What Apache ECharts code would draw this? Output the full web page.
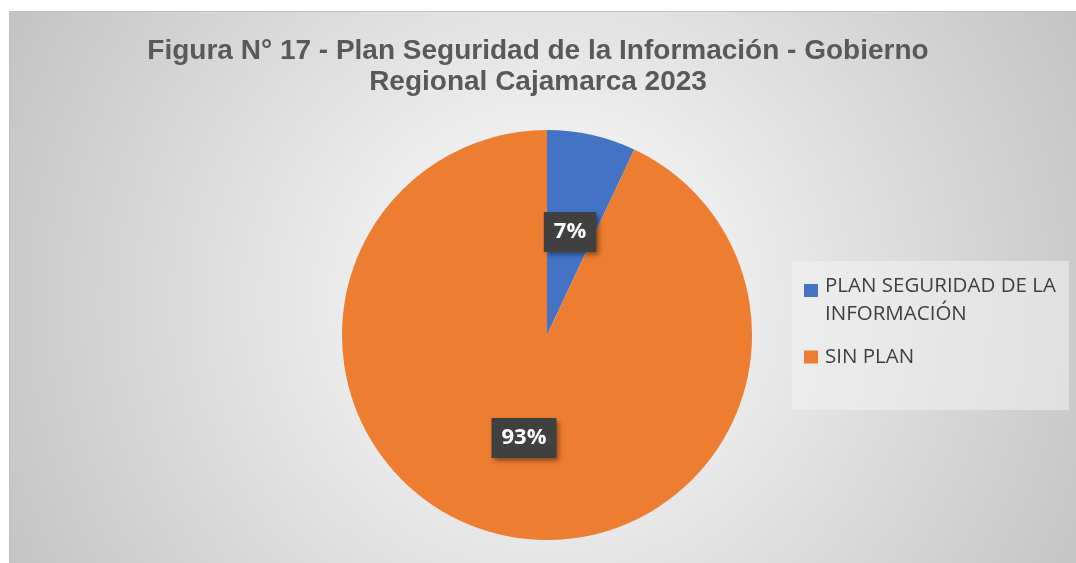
<!DOCTYPE html>
<html>
<head>
<meta charset="utf-8">
<script src="https://cdn.jsdelivr.net/npm/echarts@6/dist/echarts.min.js"></script>
<style>
    html, body {margin: 0; padding: 0; background: #fff;}
    #chart {width: 1076px; height: 563px;}
</style>
</head>
<body>
<div id="chart"></div>
<script>
// Figura 17 - pie plan seguridad

var categories = ['PLAN SEGURIDAD DE LA INFORMACIÓN', 'SIN PLAN'];
var legend_labels = ['{s| }\n{t|PLAN SEGURIDAD DE LA}\n{t|INFORMACIÓN}', '{t|SIN PLAN}'];
var values = [7, 93];
var slice_colors = ['#4472C4', '#ED7D31'];

var prepared_values = [];
categories.forEach(function (item, index) {
    prepared_values.push({name: item, value: values[index], itemStyle: {color: slice_colors[index]}});
});

var pieChart = echarts.init(document.getElementById('chart'));
var option = {
    animation: false,
    title: {
        text: 'Figura N° 17 - Plan Seguridad de la Información - Gobierno\nRegional Cajamarca 2023',
        left: 'center',
        top: 31,
        textStyle: {
            fontFamily: 'Liberation Sans',
            fontSize: 28,
            fontWeight: 'bold',
            color: '#595959',
            lineHeight: 31
        }
    },
    graphic: [
        {
            // chart area, runs off the bottom/right of the picture
            type: 'rect',
            z: -10,
            silent: true,
            shape: {x: 9.5, y: 11.5, width: 1080, height: 560},
            style: {
                fill: new echarts.graphic.RadialGradient(547, 300, 600, [
                    {offset: 0, color: '#ffffff'},
                    {offset: 1, color: '#c4c4c4'}
                ], true),
                stroke: '#c0c0c0',
                lineWidth: 1
            }
        },
        {
            // legend box
            type: 'rect',
            z: -5,
            silent: true,
            shape: {x: 792, y: 261, width: 277, height: 149},
            style: {fill: 'rgba(242,242,242,0.55)'}
        }
    ],
    legend: {
        orient: 'vertical',
        left: 804,
        top: 253,
        padding: 0,
        itemWidth: 14,
        itemHeight: 13,
        itemGap: 22,
        icon: 'rect',
        data: categories,
        formatter: function (name) {
            return legend_labels[categories.indexOf(name)];
        },
        textStyle: {
            color: '#404040',
            rich: {
                s: {fontSize: 4, lineHeight: 19, height: 19},
                t: {fontFamily: 'Open Sans', fontSize: 20.5, lineHeight: 28, color: '#404040', padding: [0, 0, 0, 2]}
            }
        }
    },
    series: [
        {
            type: 'pie',
            center: [547, 335],
            radius: ['0%', 205],
            startAngle: 90,
            clockwise: true,
            label: {
                show: true,
                position: 'inside',
                formatter: '{d}%',
                fontFamily: 'Open Sans',
                fontSize: 22,
                lineHeight: 24,
                fontWeight: 'bold',
                color: '#ffffff',
                backgroundColor: '#404040',
                padding: [8, 10, 8, 10],
                shadowColor: 'rgba(0,0,0,0.45)',
                shadowBlur: 5,
                shadowOffsetX: 3,
                shadowOffsetY: 3
            },
            labelLine: {show: false},
            data: prepared_values
        }
    ]
};
pieChart.setOption(option);
</script>
</body>
</html>
